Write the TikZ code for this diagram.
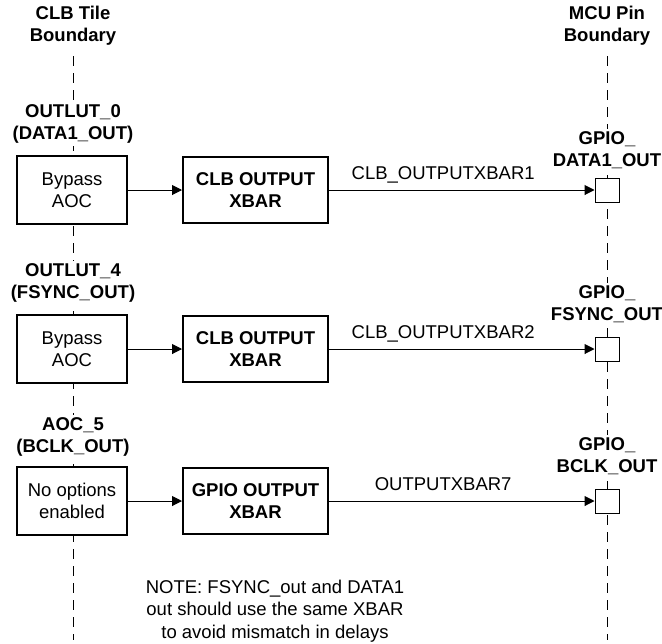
\documentclass[tikz,border=0pt]{standalone}
\usepackage{fontspec}
\setmainfont{Liberation Sans}
\usetikzlibrary{arrows.meta, positioning}

\begin{document}
\begin{tikzpicture}[
  x=0.5pt, y=-0.5pt,
  font=\fontsize{9.25pt}{11.2pt}\selectfont,
  node distance=27pt,
  box/.style={rectangle, draw, line width=1pt, minimum width=55pt, minimum height=34pt, align=center, fill=white, inner sep=1pt},
  xbarbox/.style={box, minimum width=72.5pt, minimum height=33pt, font=\fontsize{9.25pt}{11.2pt}\selectfont\bfseries},
  pin/.style={rectangle, draw, line width=0.5pt, minimum size=12pt, inner sep=0pt, fill=white},
  lbl/.style={align=center, font=\fontsize{9.25pt}{11.2pt}\selectfont\bfseries, fill=white, inner sep=1pt},
  sig/.style={above, pos=0.43, text depth=1.5pt},
  arr/.style={-{Triangle[length=5pt, width=5pt]}, line width=0.5pt},
  bound/.style={dash pattern=on 5pt off 3.5pt, line width=0.5pt},
]
\useasboundingbox (0,0) rectangle (662,643);

% Boundaries
\coordinate (topL) at (73,56);
\coordinate (botL) at (73,640);
\coordinate (topR) at (607,56);
\coordinate (botR) at (607,640);
\draw[bound] (topL) -- (botL);
\draw[bound] (topR) -- (botR);
\node[lbl] (hdrL) at (73,26) {CLB Tile\\Boundary};
\node[lbl] (hdrR) at (607,26) {MCU Pin\\Boundary};

% DATA1
\node[lbl] (outA) at (73,124) {OUTLUT\_0\\(DATA1\_OUT)};
\node[box] (aocA) at (72,190) {Bypass\\AOC};
\node[xbarbox, right=of aocA] (xbarA) {CLB OUTPUT\\XBAR};
\node[lbl] (gpioA) at (607,150) {GPIO\_\\DATA1\_OUT};
\node[pin] (pinA) at (xbarA -| topR) {};
\draw[arr] (aocA) -- (xbarA);
\draw[arr] (xbarA) -- node[sig]{CLB\_OUTPUTXBAR1} (pinA);

% FSYNC
\node[lbl] (outB) at (73,283) {OUTLUT\_4\\(FSYNC\_OUT)};
\node[box] (aocB) at (72,349) {Bypass\\AOC};
\node[xbarbox, right=of aocB] (xbarB) {CLB OUTPUT\\XBAR};
\node[lbl] (gpioB) at (607,304) {GPIO\_\\FSYNC\_OUT};
\node[pin] (pinB) at (xbarB -| topR) {};
\draw[arr] (aocB) -- (xbarB);
\draw[arr] (xbarB) -- node[sig]{CLB\_OUTPUTXBAR2} (pinB);

% BCLK
\node[lbl] (outC) at (73,437) {AOC\_5\\(BCLK\_OUT)};
\node[box] (aocC) at (72,501) {No options\\enabled};
\node[xbarbox, right=of aocC] (xbarC) {GPIO OUTPUT\\XBAR};
\node[lbl] (gpioC) at (607,456) {GPIO\_\\BCLK\_OUT};
\node[pin] (pinC) at (xbarC -| topR) {};
\draw[arr] (aocC) -- (xbarC);
\draw[arr] (xbarC) -- node[sig]{OUTPUTXBAR7} (pinC);

\node[align=center] (note) at (275,611) {NOTE: FSYNC\_out and DATA1\\out should use the same XBAR\\to avoid mismatch in delays};

\end{tikzpicture}
\end{document}
